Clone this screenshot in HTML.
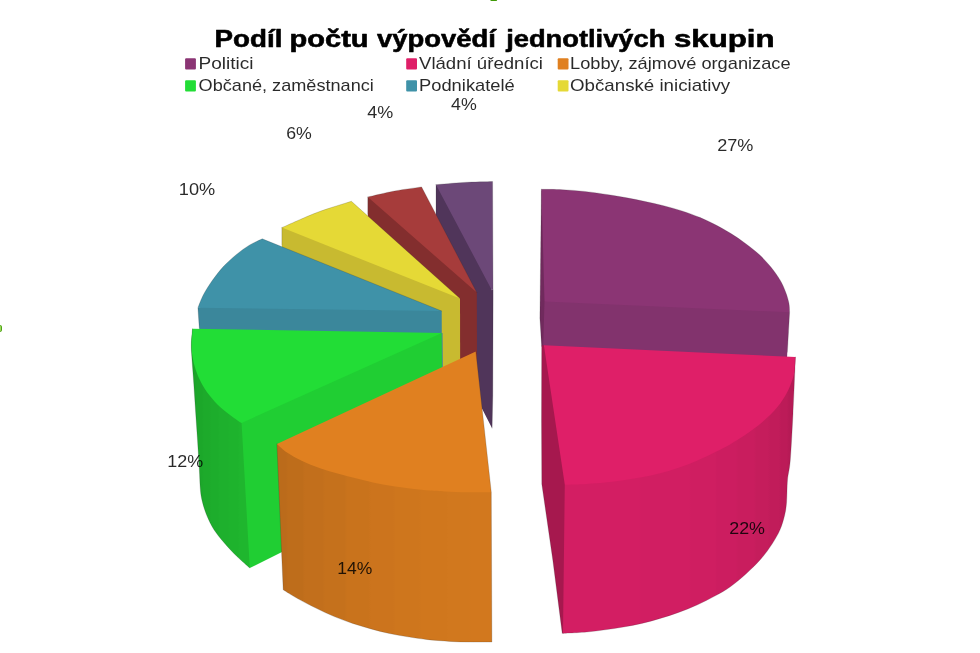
<!DOCTYPE html>
<html lang="cs">
<head>
<meta charset="utf-8">
<title>Podíl počtu výpovědí jednotlivých skupin</title>
<style>
html,body{margin:0;padding:0;background:#fff;}
body{width:980px;height:653px;overflow:hidden;font-family:"Liberation Sans",sans-serif;}
svg{display:block;will-change:transform;filter:opacity(1);}
text{font-family:"Liberation Sans",sans-serif;}
</style>
</head>
<body>
<svg width="980" height="653" viewBox="0 0 980 653">
<defs>
<linearGradient id="gg" gradientUnits="userSpaceOnUse" x1="190" y1="0" x2="252" y2="0"><stop offset="0" stop-color="#1ca42a"/><stop offset="0.0847" stop-color="#1ca42a"/><stop offset="0.1250" stop-color="#1ca72a"/><stop offset="0.1895" stop-color="#1ca72a"/><stop offset="0.2298" stop-color="#1daa2b"/><stop offset="0.3105" stop-color="#1daa2b"/><stop offset="0.3508" stop-color="#1dad2c"/><stop offset="0.4476" stop-color="#1dad2c"/><stop offset="0.4879" stop-color="#1eb02d"/><stop offset="0.6089" stop-color="#1eb02d"/><stop offset="0.6492" stop-color="#1eb32d"/><stop offset="0.7702" stop-color="#1eb32d"/><stop offset="0.8105" stop-color="#1fb62e"/><stop offset="1" stop-color="#1fb62e"/></linearGradient>
<linearGradient id="kg" gradientUnits="userSpaceOnUse" x1="560" y1="0" x2="800" y2="0"><stop offset="0" stop-color="#d31e63"/><stop offset="0.3281" stop-color="#d31e63"/><stop offset="0.3385" stop-color="#d11e62"/><stop offset="0.5365" stop-color="#d11e62"/><stop offset="0.5469" stop-color="#cf1e61"/><stop offset="0.6448" stop-color="#cf1e61"/><stop offset="0.6552" stop-color="#cc1d60"/><stop offset="0.7323" stop-color="#cc1d60"/><stop offset="0.7427" stop-color="#c91d5e"/><stop offset="0.8073" stop-color="#c91d5e"/><stop offset="0.8177" stop-color="#c51d5c"/><stop offset="0.8656" stop-color="#c51d5c"/><stop offset="0.8760" stop-color="#c11c5a"/><stop offset="0.9115" stop-color="#c11c5a"/><stop offset="0.9219" stop-color="#bc1b58"/><stop offset="0.9448" stop-color="#bc1b58"/><stop offset="0.9552" stop-color="#b61a55"/><stop offset="1" stop-color="#b61a55"/></linearGradient>
<linearGradient id="og" gradientUnits="userSpaceOnUse" x1="270" y1="0" x2="500" y2="0"><stop offset="0" stop-color="#bb6b1b"/><stop offset="0.0685" stop-color="#bb6b1b"/><stop offset="0.0793" stop-color="#be6d1b"/><stop offset="0.1407" stop-color="#be6d1b"/><stop offset="0.1515" stop-color="#c26f1c"/><stop offset="0.2285" stop-color="#c26f1c"/><stop offset="0.2393" stop-color="#c5711c"/><stop offset="0.3241" stop-color="#c5711c"/><stop offset="0.3350" stop-color="#c9731c"/><stop offset="0.4280" stop-color="#c9731c"/><stop offset="0.4389" stop-color="#cc741d"/><stop offset="0.5359" stop-color="#cc741d"/><stop offset="0.5467" stop-color="#ce761d"/><stop offset="0.6476" stop-color="#ce761d"/><stop offset="0.6585" stop-color="#d0771d"/><stop offset="0.7641" stop-color="#d0771d"/><stop offset="0.7750" stop-color="#d1781e"/><stop offset="0.8641" stop-color="#d1781e"/><stop offset="0.8750" stop-color="#d2781e"/><stop offset="1" stop-color="#d2781e"/></linearGradient>
</defs>
<rect width="980" height="653" fill="#fff"/>
<g shape-rendering="geometricPrecision">
<path d="M436 184.7 L473.5 218.8 L491.9 290.3 L493.1 289.5 L493.1 300 L492.8 395 L492.1 428.2 L436 319Z" fill="#50355a"/>
<path d="M436 184.7C440.6 184.3 454.5 182.9 463.9 182.4C473.3 181.9 487.8 181.7 492.6 181.5L493 289.5L491.9 290.3Z" fill="#6c4878"/>
<path d="M367.8 197 L422 225.5 L476.8 292.6 L477.2 430 L367.8 330Z" fill="#832e2e"/>
<path d="M367.8 197C372.2 196 385.5 192.7 394.5 191C403.5 189.3 417.1 187.6 421.6 186.9L476.8 292.6Z" fill="#a63c3b"/>
<path d="M281.9 227.6 L364.4 242.5 L460 298.6 L460.3 436 L281.9 360Z" fill="#c8ba30"/>
<path d="M281.9 227.6C287.8 225.1 305.4 216.9 317 212.5C328.6 208.1 345.7 203.2 351.4 201.3L460 298.6Z" fill="#e5d936"/>
<path d="M197.9 307.7 L300 280 L441.7 311 L442.2 450 L201 450 L199.3 328.8Z" fill="#3b879b"/>
<path d="M262.2 238.8C260.1 239.9 253.6 242.6 249.3 245.2C245 247.8 240.8 250.9 236.5 254.4C232.2 257.9 227.6 262 223.6 266.3C219.6 270.6 216 275.4 212.6 280.1C209.2 284.9 205.8 290.2 203.4 294.8C201 299.4 198.8 305.6 197.9 307.7L441.7 311Z" fill="#3f92a8"/>
<path d="M441.8 333 L300 370 L234 420 L240 553 L249.8 568 L300 543 L442.5 470Z" fill="#20ce33"/>
<path d="M192.5 328.8C192.3 331.3 191.4 339.2 191.3 343.9C191.2 348.6 191.4 350.1 191.8 356.8C192.2 363.5 193.2 375.1 193.8 384.3C194.4 393.5 195 402.6 195.6 411.9C196.2 421.2 196.9 430.4 197.5 440C198.1 449.6 198.9 461.3 199.3 469.2C199.8 477.1 199.8 482.4 200.2 487.6C200.6 492.8 200.9 495.8 202 500.4C203.1 505 204.6 510.2 206.6 515.1C208.6 520 211.1 525.2 214 529.8C216.9 534.4 220.3 538.2 224.1 542.7C227.9 547.2 232.7 552.3 237 556.5C241.3 560.7 247.7 566.1 249.8 568L241.6 422.9L260 370Z" fill="url(#gg)"/>
<path d="M192.5 328.8C192.3 331.3 191.5 339.3 191.5 344C191.5 348.7 191.8 352.5 192.5 356.8C193.2 361.1 194.2 365.3 195.6 369.6C197 373.9 198.8 378.2 201.1 382.5C203.4 386.8 206.2 391.2 209.4 395.3C212.6 399.4 216.4 403.6 220.4 407.3C224.4 411 229.8 414.8 233.3 417.4C236.8 420 240.2 422 241.6 422.9L441.8 333Z" fill="#22dd36"/>
<path d="M442.2 333L442.5 367" stroke="#3b879b" stroke-width="0.8" fill="none"/>
<path d="M541.4 189.3 L560 250 L560 340 L543.5 346.5 L541.6 346.5 L539.9 318Z" fill="#702a5d"/>
<path d="M544.5 301.5 L650 260 L789.6 312.3 L787 358 L543.2 346Z" fill="#82336d"/>
<path d="M541.4 189.3C544.9 189.4 555.4 189.3 562.6 189.7C569.8 190 577 190.6 584.6 191.4C592.2 192.2 601.5 193.6 608.5 194.7C615.5 195.8 620.7 196.7 626.8 197.8C632.9 198.9 639.1 200.2 645.2 201.5C651.3 202.8 657.5 204.1 663.6 205.7C669.7 207.3 675.9 208.9 682 210.9C688.1 212.9 694.5 215.2 700.3 217.6C706.1 220 711.9 222.9 717 225.6C722.1 228.3 726.3 230.7 731 233.6C735.7 236.5 740.3 239.6 745.1 243.2C749.9 246.8 755.5 251.1 759.8 255.1C764.1 259.1 767.5 263 770.9 267.1C774.3 271.2 777.5 275.8 780 279.9C782.5 284 784.1 288.1 785.6 291.9C787.1 295.7 788.2 299.5 788.9 302.9C789.6 306.3 789.5 310.7 789.6 312.3L544.5 301.5Z" fill="#8b3574"/>
<path d="M543.9 345.3 L600 420 L575 484 L572 628 L563 633.4 L562.2 633.2 L552.8 560 L541.8 484 L541.5 420 L541.7 345.4Z" fill="#a6184e"/>
<path d="M795.4 357C795 366.4 793.9 396.3 793 413.5C792.1 430.7 791.2 448.9 790.3 460C789.4 471.1 788.1 473 787.5 480C786.9 487 787.1 496.2 786.6 502C786.1 507.8 785.8 510.4 784.7 515C783.6 519.6 782.2 524.7 780.1 529.6C778 534.5 775.1 539.4 771.9 544.3C768.7 549.2 765.2 554.1 760.9 559C756.6 563.9 751.4 569 746.2 573.7C741.1 578.4 735.1 583.3 730 587C724.9 590.7 720.8 592.8 715.3 595.8C709.8 598.8 703.1 602.2 697 605C690.9 607.8 684.7 610.2 678.6 612.4C672.5 614.6 666.3 616.6 660.2 618.4C654.1 620.2 647.9 622 641.8 623.4C635.7 624.8 629.6 625.9 623.5 627C617.4 628.1 611.2 629 605.1 629.8C599 630.6 592.8 631.5 586.7 632C580.6 632.5 572.4 632.9 568.4 633.1C564.4 633.3 563.9 633.4 563 633.4L564.8 484.7L650 400Z" fill="url(#kg)"/>
<path d="M795.4 357C795.3 359.1 795.3 365.5 794.8 369.4C794.2 373.3 793.5 376.4 792.1 380.4C790.7 384.4 789.1 388.9 786.6 393.3C784.1 397.8 781.4 402.4 777.4 407.1C773.4 411.9 768.2 417.1 762.7 421.8C757.2 426.6 749.8 431.8 744.3 435.6C738.8 439.4 734.8 441.6 730 444.4C725.2 447.1 720.8 449.4 715.3 452.1C709.8 454.8 703.1 458.2 697 460.8C690.9 463.4 684.7 465.7 678.6 467.8C672.5 469.9 666.3 471.7 660.2 473.3C654.1 474.9 647.9 476.2 641.8 477.3C635.7 478.4 629.6 479.3 623.5 480.2C617.4 481.1 611.2 481.9 605.1 482.5C599 483.1 593.4 483.5 586.7 483.9C580 484.3 568.4 484.6 564.8 484.7L543.9 345.3Z" fill="#df1f68"/>
<path d="M276.9 443.9L420 440L491.3 492.3L491.9 642C486.7 642 469.4 642.1 460.8 641.9C452.2 641.7 446.2 641.1 440.4 640.7C434.6 640.3 431.5 640 426.1 639.4C420.7 638.8 413.9 637.8 407.8 636.8C401.7 635.8 395.5 634.8 389.4 633.5C383.3 632.2 377.1 630.6 371 628.9C364.9 627.2 358.8 625.4 352.7 623.4C346.6 621.4 340.4 619.1 334.3 616.6C328.2 614.1 322 611.1 315.9 608.1C309.8 605.1 303.1 601.7 297.6 598.6C292.2 595.5 285.6 591.3 283.2 589.8Z" fill="url(#og)"/>
<path d="M276.9 443.9C278.6 445.3 282.9 449.8 287 452.6C291.1 455.4 296.2 458.2 301.7 460.8C307.2 463.4 314 466.1 320.1 468.2C326.2 470.3 332.4 472 338.5 473.7C344.6 475.4 350.7 477.1 356.8 478.6C362.9 480.1 369.1 481.6 375.2 482.9C381.3 484.2 387.5 485.2 393.6 486.2C399.7 487.2 405.8 488 411.9 488.7C418 489.4 424.8 490.1 430.3 490.6C435.8 491.1 438.7 491.2 445 491.5C451.3 491.8 460.3 492.2 468 492.3C475.7 492.4 487.4 492.3 491.3 492.3L475.8 351.5Z" fill="#e08020"/>
</g>
<g>
<path d="M436 184.7C440.6 184.3 454.5 182.9 463.9 182.4C473.3 181.9 487.8 181.7 492.6 181.5L493.1 289.5L492.8 395L492.1 428.2" fill="none" stroke="#2b2b2b" stroke-opacity="0.32" stroke-width="0.6" stroke-linejoin="round" stroke-linecap="round"/>
<path d="M436 213L436 184.7" fill="none" stroke="#2b2b2b" stroke-opacity="0.32" stroke-width="0.6" stroke-linejoin="round" stroke-linecap="round"/>
<path d="M367.8 197C372.2 196 385.5 192.7 394.5 191C403.5 189.3 417.1 187.6 421.6 186.9L476.8 292.6" fill="none" stroke="#2b2b2b" stroke-opacity="0.32" stroke-width="0.6" stroke-linejoin="round" stroke-linecap="round"/>
<path d="M367.8 214L367.8 197" fill="none" stroke="#2b2b2b" stroke-opacity="0.32" stroke-width="0.6" stroke-linejoin="round" stroke-linecap="round"/>
<path d="M281.9 227.6C287.8 225.1 305.4 216.9 317 212.5C328.6 208.1 345.7 203.2 351.4 201.3L460 298.6" fill="none" stroke="#2b2b2b" stroke-opacity="0.32" stroke-width="0.6" stroke-linejoin="round" stroke-linecap="round"/>
<path d="M281.9 245L281.9 227.6" fill="none" stroke="#2b2b2b" stroke-opacity="0.32" stroke-width="0.6" stroke-linejoin="round" stroke-linecap="round"/>
<path d="M199.3 328L197.9 307.7C198.8 305.6 201 299.4 203.4 294.8C205.8 290.2 209.2 284.9 212.6 280.1C216 275.4 219.6 270.6 223.6 266.3C227.6 262 232.2 257.9 236.5 254.4C240.8 250.9 245 247.8 249.3 245.2C253.6 242.6 260.1 239.9 262.2 238.8L441.7 311" fill="none" stroke="#2b2b2b" stroke-opacity="0.32" stroke-width="0.6" stroke-linejoin="round" stroke-linecap="round"/>
<path d="M249.8 568C247.7 566.1 241.3 560.7 237 556.5C232.7 552.3 227.9 547.2 224.1 542.7C220.3 538.2 216.9 534.4 214 529.8C211.1 525.2 208.6 520 206.6 515.1C204.6 510.2 203.1 505 202 500.4C200.9 495.8 200.6 492.8 200.2 487.6C199.8 482.4 199.8 477.1 199.3 469.2C198.9 461.3 198.1 449.6 197.5 440C196.9 430.4 196.2 421.2 195.6 411.9C195 402.6 194.4 393.5 193.8 384.3C193.2 375.1 192.2 363.5 191.8 356.8C191.4 350.1 191.2 348.6 191.3 343.9C191.4 339.2 192.3 331.3 192.5 328.8" fill="none" stroke="#2b2b2b" stroke-opacity="0.32" stroke-width="0.6" stroke-linejoin="round" stroke-linecap="round"/>
<path d="M541.4 189.3C544.9 189.4 555.4 189.3 562.6 189.7C569.8 190 577 190.6 584.6 191.4C592.2 192.2 601.5 193.6 608.5 194.7C615.5 195.8 620.7 196.7 626.8 197.8C632.9 198.9 639.1 200.2 645.2 201.5C651.3 202.8 657.5 204.1 663.6 205.7C669.7 207.3 675.9 208.9 682 210.9C688.1 212.9 694.5 215.2 700.3 217.6C706.1 220 711.9 222.9 717 225.6C722.1 228.3 726.3 230.7 731 233.6C735.7 236.5 740.3 239.6 745.1 243.2C749.9 246.8 755.5 251.1 759.8 255.1C764.1 259.1 767.5 263 770.9 267.1C774.3 271.2 777.5 275.8 780 279.9C782.5 284 784.1 288.1 785.6 291.9C787.1 295.7 788.2 299.5 788.9 302.9C789.6 306.3 789.5 310.7 789.6 312.3L787.4 352" fill="none" stroke="#2b2b2b" stroke-opacity="0.32" stroke-width="0.6" stroke-linejoin="round" stroke-linecap="round"/>
<path d="M541.4 189.3L539.9 318L541.7 345.4L541.5 420L541.8 484L552.8 560L562.2 633.2" fill="none" stroke="#2b2b2b" stroke-opacity="0.32" stroke-width="0.6" stroke-linejoin="round" stroke-linecap="round"/>
<path d="M563 633.4C563.9 633.4 564.4 633.3 568.4 633.1C572.4 632.9 580.6 632.5 586.7 632C592.8 631.5 599 630.6 605.1 629.8C611.2 629 617.4 628.1 623.5 627C629.6 625.9 635.7 624.8 641.8 623.4C647.9 622 654.1 620.2 660.2 618.4C666.3 616.6 672.5 614.6 678.6 612.4C684.7 610.2 690.9 607.8 697 605C703.1 602.2 709.8 598.8 715.3 595.8C720.8 592.8 724.9 590.7 730 587C735.1 583.3 741.1 578.4 746.2 573.7C751.4 569 756.6 563.9 760.9 559C765.2 554.1 768.7 549.2 771.9 544.3C775.1 539.4 778 534.5 780.1 529.6C782.2 524.7 783.6 519.6 784.7 515C785.8 510.4 786.1 507.8 786.6 502C787.1 496.2 786.9 487 787.5 480C788.1 473 789.4 471.1 790.3 460C791.2 448.9 792.1 430.7 793 413.5C793.9 396.3 795 366.4 795.4 357" fill="none" stroke="#2b2b2b" stroke-opacity="0.32" stroke-width="0.6" stroke-linejoin="round" stroke-linecap="round"/>
<path d="M475.8 351.5L491.3 492.3L491.9 642C486.7 642 469.4 642.1 460.8 641.9C452.2 641.7 446.2 641.1 440.4 640.7C434.6 640.3 431.5 640 426.1 639.4C420.7 638.8 413.9 637.8 407.8 636.8C401.7 635.8 395.5 634.8 389.4 633.5C383.3 632.2 377.1 630.6 371 628.9C364.9 627.2 358.8 625.4 352.7 623.4C346.6 621.4 340.4 619.1 334.3 616.6C328.2 614.1 322 611.1 315.9 608.1C309.8 605.1 303.1 601.7 297.6 598.6C292.2 595.5 285.6 591.3 283.2 589.8L276.9 443.9" fill="none" stroke="#2b2b2b" stroke-opacity="0.32" stroke-width="0.6" stroke-linejoin="round" stroke-linecap="round"/>
</g>
<g>
<rect x="185.1" y="58.2" width="10.8" height="11.2" rx="1" fill="#8b3574"/><rect x="406.2" y="58.2" width="10.8" height="11.2" rx="1" fill="#df1f68"/><rect x="557.7" y="58.2" width="10.8" height="11.2" rx="1" fill="#e08020"/><rect x="185.1" y="80.2" width="10.8" height="11.2" rx="1" fill="#22dd36"/><rect x="406.2" y="80.2" width="10.8" height="11.2" rx="1" fill="#3f92a8"/><rect x="557.7" y="80.2" width="10.8" height="11.2" rx="1" fill="#e5d936"/>
</g>
<g>
<text x="214.6" y="46.5" font-size="23" font-weight="bold" fill="#000" textLength="67.8" lengthAdjust="spacingAndGlyphs" stroke="#000" stroke-width="0.55" stroke-linejoin="round">Podíl</text>
<text x="289.6" y="46.5" font-size="23" font-weight="bold" fill="#000" textLength="79" lengthAdjust="spacingAndGlyphs" stroke="#000" stroke-width="0.55" stroke-linejoin="round">počtu</text>
<text x="377" y="46.5" font-size="23" font-weight="bold" fill="#000" textLength="119" lengthAdjust="spacingAndGlyphs" stroke="#000" stroke-width="0.55" stroke-linejoin="round">výpovědí</text>
<text x="506.2" y="46.5" font-size="23" font-weight="bold" fill="#000" textLength="159.2" lengthAdjust="spacingAndGlyphs" stroke="#000" stroke-width="0.55" stroke-linejoin="round">jednotlivých</text>
<text x="674" y="46.5" font-size="23" font-weight="bold" fill="#000" textLength="100.6" lengthAdjust="spacingAndGlyphs" stroke="#000" stroke-width="0.55" stroke-linejoin="round">skupin</text>
<text x="198.6" y="68.8" font-size="17" font-weight="normal" fill="#000" textLength="55" lengthAdjust="spacingAndGlyphs" fill-opacity="0.84">Politici</text>
<text x="419" y="68.8" font-size="17" font-weight="normal" fill="#000" textLength="124" lengthAdjust="spacingAndGlyphs" fill-opacity="0.84">Vládní úředníci</text>
<text x="570" y="68.8" font-size="17" font-weight="normal" fill="#000" textLength="220.6" lengthAdjust="spacingAndGlyphs" fill-opacity="0.84">Lobby, zájmové organizace</text>
<text x="198.6" y="90.5" font-size="17" font-weight="normal" fill="#000" textLength="175.2" lengthAdjust="spacingAndGlyphs" fill-opacity="0.84">Občané, zaměstnanci</text>
<text x="419" y="90.5" font-size="17" font-weight="normal" fill="#000" textLength="95.8" lengthAdjust="spacingAndGlyphs" fill-opacity="0.84">Podnikatelé</text>
<text x="570" y="90.5" font-size="17" font-weight="normal" fill="#000" textLength="160.2" lengthAdjust="spacingAndGlyphs" fill-opacity="0.84">Občanské iniciativy</text>
<text x="717.2" y="150.8" font-size="17" font-weight="normal" fill="#000" textLength="36.2" lengthAdjust="spacingAndGlyphs" fill-opacity="0.84">27%</text>
<text x="729.2" y="533.8" font-size="17" font-weight="normal" fill="#000" textLength="35.8" lengthAdjust="spacingAndGlyphs" fill-opacity="0.84">22%</text>
<text x="337.2" y="574.1" font-size="17" font-weight="normal" fill="#000" textLength="35" lengthAdjust="spacingAndGlyphs" fill-opacity="0.84">14%</text>
<text x="167.2" y="467" font-size="17" font-weight="normal" fill="#000" textLength="35.9" lengthAdjust="spacingAndGlyphs" fill-opacity="0.84">12%</text>
<text x="178.8" y="194.6" font-size="17" font-weight="normal" fill="#000" textLength="36.4" lengthAdjust="spacingAndGlyphs" fill-opacity="0.84">10%</text>
<text x="286.2" y="139.1" font-size="17" font-weight="normal" fill="#000" textLength="25.6" lengthAdjust="spacingAndGlyphs" fill-opacity="0.84">6%</text>
<text x="367.2" y="117.9" font-size="17" font-weight="normal" fill="#000" textLength="26" lengthAdjust="spacingAndGlyphs" fill-opacity="0.84">4%</text>
<text x="451.1" y="109.7" font-size="17" font-weight="normal" fill="#000" textLength="25.7" lengthAdjust="spacingAndGlyphs" fill-opacity="0.84">4%</text>
</g>
<g>
<rect x="-4" y="325.6" width="5.5" height="5.8" rx="1" fill="#9bd95a" stroke="#3f9a08" stroke-width="0.9"/><rect x="490.3" y="-4" width="6.8" height="5" rx="1" fill="#3f9a08"/>
</g>
</svg>
</body>
</html>
